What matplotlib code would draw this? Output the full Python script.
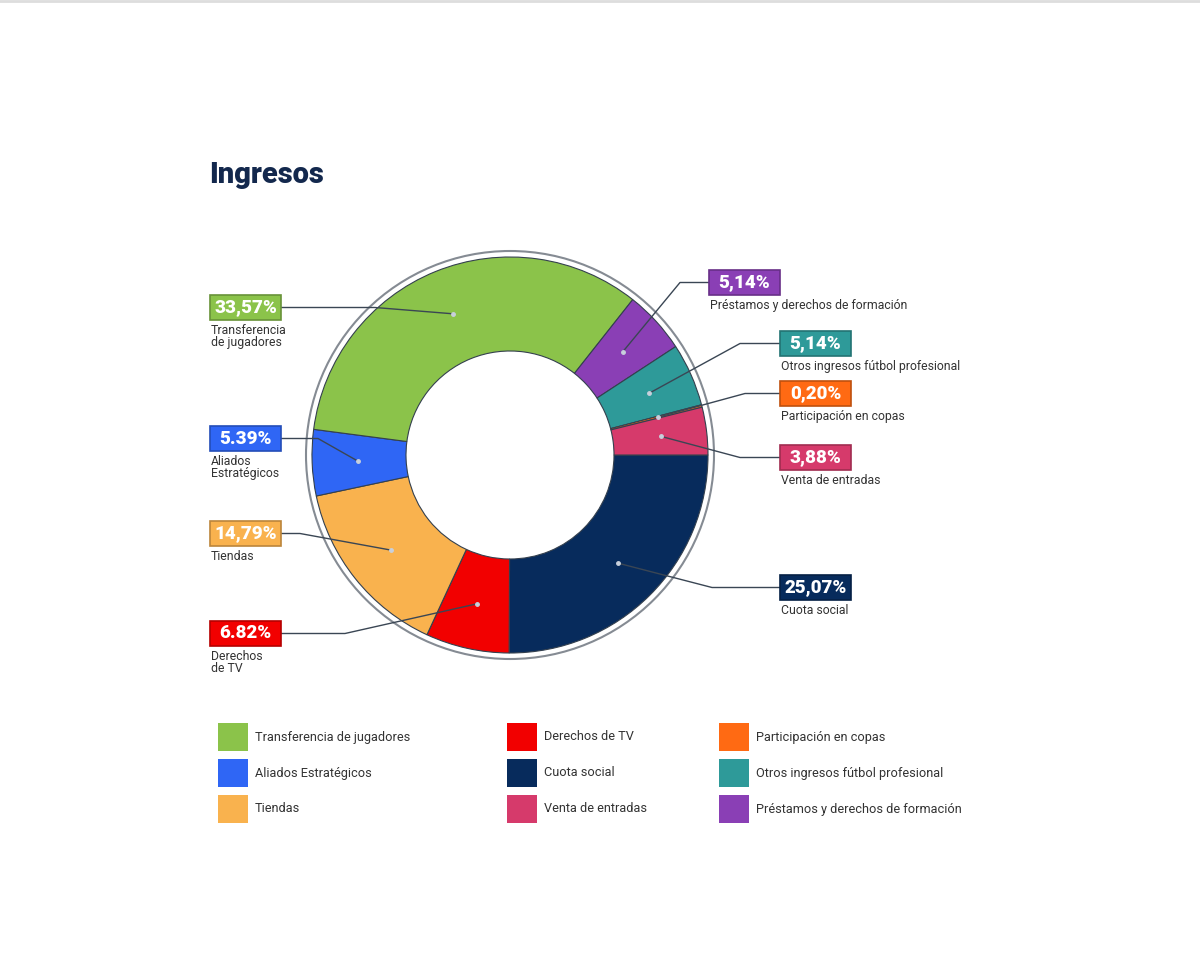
import numpy as np
import matplotlib.pyplot as plt
from matplotlib.patches import Rectangle, Circle

plt.rcParams['font.family'] = ['Roboto', 'DejaVu Sans']

# data (clockwise from 3 o'clock)
names = ['Cuota social', 'Derechos de TV', 'Tiendas', 'Aliados Estratégicos',
         'Transferencia de jugadores', 'Préstamos y derechos de formación',
         'Otros ingresos fútbol profesional', 'Participación en copas', 'Venta de entradas']
values = [25.07, 6.82, 14.79, 5.39, 33.57, 5.14, 5.14, 0.20, 3.88]
pct_text = ['25,07%', '6.82%', '14,79%', '5.39%', '33,57%', '5,14%', '5,14%', '0,20%', '3,88%']
callout = ['Cuota social', 'Derechos\nde TV', 'Tiendas', 'Aliados\nEstratégicos',
           'Transferencia\nde jugadores', 'Préstamos y derechos de formación',
           'Otros ingresos fútbol profesional', 'Participación en copas', 'Venta de entradas']
colors = ['#072b5c', '#f20000', '#f9b24e', '#2f66f5', '#8bc34a',
          '#8a3fb5', '#2e9a99', '#ff6a13', '#d63a6b']
legend_order = [4, 3, 2, 1, 0, 8, 7, 6, 5]

W, H = 1200, 971
fig = plt.figure(figsize=(12, 9.71), dpi=100)
ax = fig.add_axes([0, 0, 1, 1])

def Y(y):
    return H - y

cx, cy, R, ring = 510, 455, 198, 94
wedges, _ = ax.pie(values, colors=colors, startangle=0, counterclock=False,
                   center=(cx, Y(cy)), radius=R,
                   wedgeprops=dict(width=ring, edgecolor='#34404e', linewidth=0.8))
ax.add_patch(Circle((cx, Y(cy)), R + 6, fill=False, edgecolor='#858b93', linewidth=1.5))
ax.set_xlim(0, W)
ax.set_ylim(0, H)
ax.set_aspect('equal')
ax.axis('off')

ax.plot([0, W], [Y(1), Y(1)], color='#dddddd', lw=2)

ax.text(209, Y(175), 'Ingresos', fontsize=21, fontweight='heavy', color='#13284d',
        va='center', ha='left')

# callout boxes: left/top corner and elbow x
box_pos = [(780, 575), (210, 621), (210, 521), (210, 426), (210, 295),
           (709, 270), (780, 331), (780, 381), (780, 445)]
elbow_x = [712, 345, 300, 318, 375, 680, 740, 745, 740]
bw, bh = 71, 25

def darker(c, f=0.75):
    rgb = np.array(plt.matplotlib.colors.to_rgb(c))
    return tuple(rgb * f)

for i, w in enumerate(wedges):
    mid = np.deg2rad((w.theta1 + w.theta2) / 2)
    dx = cx + 0.77 * R * np.cos(mid)
    dy = Y(cy) + 0.77 * R * np.sin(mid)
    bx, by = box_pos[i]
    left_side = bx < cx
    sx = bx + bw if left_side else bx
    sy = by + bh / 2
    ax.plot([sx, elbow_x[i], dx], [Y(sy), Y(sy), dy], color='#3a4654', lw=1, zorder=5)
    ax.plot(dx, dy, 'o', ms=2.5, color='#c8d0dc', zorder=6)
    ax.add_patch(Rectangle((bx, Y(by + bh)), bw, bh, facecolor=colors[i],
                           edgecolor=darker(colors[i]), lw=1.2, zorder=6))
    ax.text(bx + bw / 2, Y(by + bh / 2), pct_text[i], color='white', fontsize=13.5,
            fontweight='heavy', ha='center', va='center', zorder=7)
    ax.text(bx + 1, Y(by + bh + 4), callout[i], color='#333333', fontsize=8.8,
            ha='left', va='top', linespacing=0.85, zorder=7)

# legend
col_x = [218, 507, 719]
row_y = [737, 773, 809]
for k, idx in enumerate(legend_order):
    lx = col_x[k // 3]
    ly = row_y[k % 3]
    ax.add_patch(Rectangle((lx, Y(ly + 14)), 30, 28, facecolor=colors[idx], edgecolor='none'))
    ax.text(lx + 37, Y(ly), names[idx], color='#333333', fontsize=9.2, ha='left', va='center')

fig.savefig('out.png', dpi=100, facecolor='white')
